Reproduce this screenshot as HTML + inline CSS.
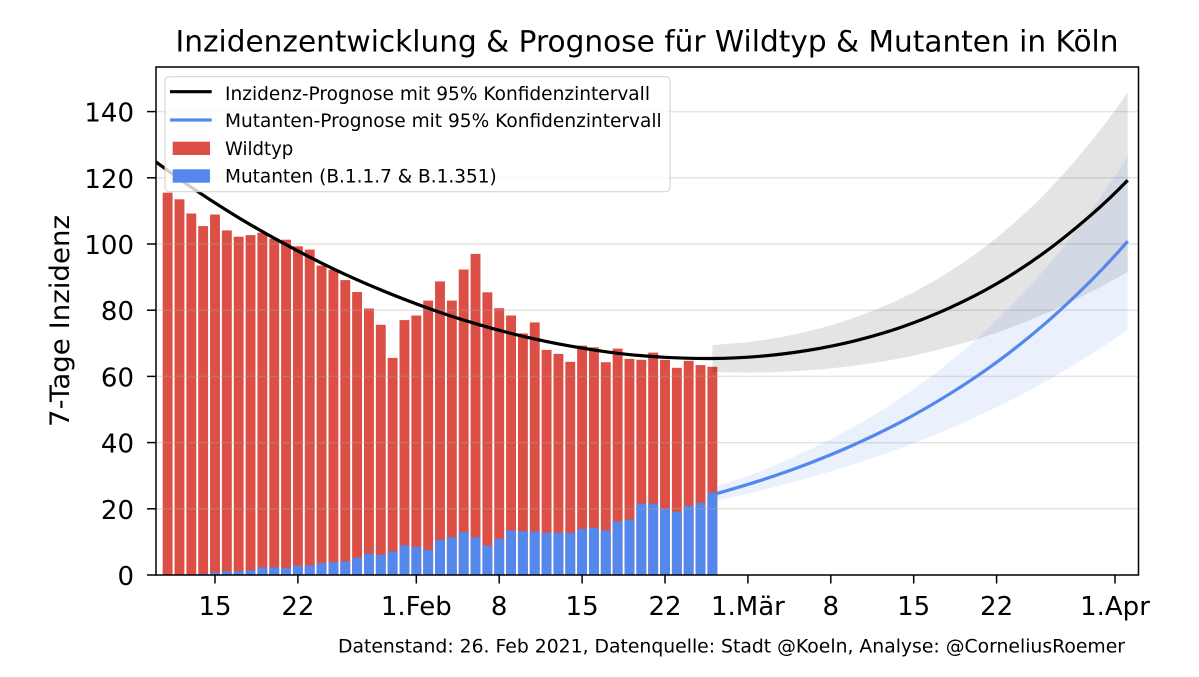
<!DOCTYPE html>
<html>
<head>
<meta charset="utf-8">
<style>
  html, body { margin: 0; padding: 0; background: #ffffff; }
  svg { display: block; }
  text { font-family: "DejaVu Sans", "Liberation Sans", sans-serif; fill: #000; }
</style>
</head>
<body>
<svg width="1199" height="677" viewBox="0 0 1199 677" xmlns="http://www.w3.org/2000/svg">
  <defs>
    <clipPath id="plot">
      <rect x="156" y="67" width="982.5" height="508"/>
    </clipPath>
    <clipPath id="blueclip">
      <rect x="716.5" y="67" width="422" height="508"/>
    </clipPath>
  </defs>
  <rect x="0" y="0" width="1199" height="677" fill="#ffffff"/>

  <!-- Title -->
  <text x="647" y="51.7" font-size="29.5" text-anchor="middle" textLength="943" lengthAdjust="spacingAndGlyphs">Inzidenzentwicklung &amp; Prognose für Wildtyp &amp; Mutanten in Köln</text>

  <g clip-path="url(#plot)">
    <!-- red bars (total) -->
    <g fill="#db4f46">
      <rect x="162.68" y="192.7" width="9.9" height="382.3"/>
      <rect x="174.52" y="199.3" width="9.9" height="375.7"/>
      <rect x="186.37" y="213.5" width="9.9" height="361.5"/>
      <rect x="198.21" y="226.1" width="9.9" height="348.9"/>
      <rect x="210.05" y="214.5" width="9.9" height="360.5"/>
      <rect x="221.89" y="230.4" width="9.9" height="344.6"/>
      <rect x="233.73" y="236.7" width="9.9" height="338.3"/>
      <rect x="245.58" y="235.1" width="9.9" height="339.9"/>
      <rect x="257.42" y="232.7" width="9.9" height="342.3"/>
      <rect x="269.26" y="238.7" width="9.9" height="336.3"/>
      <rect x="281.10" y="239.7" width="9.9" height="335.3"/>
      <rect x="292.94" y="246.3" width="9.9" height="328.7"/>
      <rect x="304.79" y="249.6" width="9.9" height="325.4"/>
      <rect x="316.63" y="265.5" width="9.9" height="309.5"/>
      <rect x="328.47" y="269.8" width="9.9" height="305.2"/>
      <rect x="340.31" y="280.1" width="9.9" height="294.9"/>
      <rect x="352.15" y="292.0" width="9.9" height="283.0"/>
      <rect x="364.00" y="308.5" width="9.9" height="266.5"/>
      <rect x="375.84" y="324.8" width="9.9" height="250.2"/>
      <rect x="387.68" y="357.9" width="9.9" height="217.1"/>
      <rect x="399.52" y="320.1" width="9.9" height="254.9"/>
      <rect x="411.36" y="315.5" width="9.9" height="259.5"/>
      <rect x="423.21" y="300.6" width="9.9" height="274.4"/>
      <rect x="435.05" y="281.4" width="9.9" height="293.6"/>
      <rect x="446.89" y="300.6" width="9.9" height="274.4"/>
      <rect x="458.73" y="269.5" width="9.9" height="305.5"/>
      <rect x="470.57" y="253.9" width="9.9" height="321.1"/>
      <rect x="482.42" y="292.3" width="9.9" height="282.7"/>
      <rect x="494.26" y="308.2" width="9.9" height="266.8"/>
      <rect x="506.10" y="315.5" width="9.9" height="259.5"/>
      <rect x="517.94" y="333.4" width="9.9" height="241.6"/>
      <rect x="529.78" y="322.4" width="9.9" height="252.6"/>
      <rect x="541.63" y="349.9" width="9.9" height="225.1"/>
      <rect x="553.47" y="353.9" width="9.9" height="221.1"/>
      <rect x="565.31" y="361.8" width="9.9" height="213.2"/>
      <rect x="577.15" y="345.6" width="9.9" height="229.4"/>
      <rect x="588.99" y="347.3" width="9.9" height="227.7"/>
      <rect x="600.84" y="362.2" width="9.9" height="212.8"/>
      <rect x="612.68" y="348.6" width="9.9" height="226.4"/>
      <rect x="624.52" y="358.9" width="9.9" height="216.1"/>
      <rect x="636.36" y="359.8" width="9.9" height="215.2"/>
      <rect x="648.20" y="352.6" width="9.9" height="222.4"/>
      <rect x="660.05" y="359.8" width="9.9" height="215.2"/>
      <rect x="671.89" y="367.8" width="9.9" height="207.2"/>
      <rect x="683.73" y="360.8" width="9.9" height="214.2"/>
      <rect x="695.57" y="365.1" width="9.9" height="209.9"/>
      <rect x="707.41" y="366.8" width="9.9" height="208.2"/>
    </g>
    <!-- blue bars (mutants) -->
    <g fill="#5488ec">
      <rect x="186.37" y="574.3" width="9.9" height="0.7"/>
      <rect x="198.21" y="573.7" width="9.9" height="1.3"/>
      <rect x="210.05" y="572.4" width="9.9" height="2.6"/>
      <rect x="221.89" y="571.4" width="9.9" height="3.6"/>
      <rect x="233.73" y="571.4" width="9.9" height="3.6"/>
      <rect x="245.58" y="570.4" width="9.9" height="4.6"/>
      <rect x="257.42" y="567.4" width="9.9" height="7.6"/>
      <rect x="269.26" y="567.4" width="9.9" height="7.6"/>
      <rect x="281.10" y="568.0" width="9.9" height="7.0"/>
      <rect x="292.94" y="565.7" width="9.9" height="9.3"/>
      <rect x="304.79" y="565.4" width="9.9" height="9.6"/>
      <rect x="316.63" y="563.1" width="9.9" height="11.9"/>
      <rect x="328.47" y="562.1" width="9.9" height="12.9"/>
      <rect x="340.31" y="561.4" width="9.9" height="13.6"/>
      <rect x="352.15" y="557.8" width="9.9" height="17.2"/>
      <rect x="364.00" y="553.8" width="9.9" height="21.2"/>
      <rect x="375.84" y="554.8" width="9.9" height="20.2"/>
      <rect x="387.68" y="551.5" width="9.9" height="23.5"/>
      <rect x="399.52" y="545.2" width="9.9" height="29.8"/>
      <rect x="411.36" y="546.9" width="9.9" height="28.1"/>
      <rect x="423.21" y="549.8" width="9.9" height="25.2"/>
      <rect x="435.05" y="539.9" width="9.9" height="35.1"/>
      <rect x="446.89" y="537.3" width="9.9" height="37.7"/>
      <rect x="458.73" y="532.0" width="9.9" height="43.0"/>
      <rect x="470.57" y="537.3" width="9.9" height="37.7"/>
      <rect x="482.42" y="545.5" width="9.9" height="29.5"/>
      <rect x="494.26" y="538.6" width="9.9" height="36.4"/>
      <rect x="506.10" y="530.6" width="9.9" height="44.4"/>
      <rect x="517.94" y="531.3" width="9.9" height="43.7"/>
      <rect x="529.78" y="531.6" width="9.9" height="43.4"/>
      <rect x="541.63" y="532.6" width="9.9" height="42.4"/>
      <rect x="553.47" y="532.6" width="9.9" height="42.4"/>
      <rect x="565.31" y="532.6" width="9.9" height="42.4"/>
      <rect x="577.15" y="529.0" width="9.9" height="46.0"/>
      <rect x="588.99" y="527.7" width="9.9" height="47.3"/>
      <rect x="600.84" y="530.6" width="9.9" height="44.4"/>
      <rect x="612.68" y="521.4" width="9.9" height="53.6"/>
      <rect x="624.52" y="519.7" width="9.9" height="55.3"/>
      <rect x="636.36" y="503.8" width="9.9" height="71.2"/>
      <rect x="648.20" y="503.8" width="9.9" height="71.2"/>
      <rect x="660.05" y="508.8" width="9.9" height="66.2"/>
      <rect x="671.89" y="511.8" width="9.9" height="63.2"/>
      <rect x="683.73" y="505.8" width="9.9" height="69.2"/>
      <rect x="695.57" y="503.2" width="9.9" height="71.8"/>
      <rect x="707.41" y="492.9" width="9.9" height="82.1"/>
    </g>

    <!-- horizontal grid (drawn over bars, semi-transparent) -->
    <g stroke="rgba(170,170,170,0.32)" stroke-width="1.5">
      <line x1="156" y1="508.8" x2="1138.5" y2="508.8"/>
      <line x1="156" y1="442.6" x2="1138.5" y2="442.6"/>
      <line x1="156" y1="376.4" x2="1138.5" y2="376.4"/>
      <line x1="156" y1="310.2" x2="1138.5" y2="310.2"/>
      <line x1="156" y1="244.0" x2="1138.5" y2="244.0"/>
      <line x1="156" y1="177.8" x2="1138.5" y2="177.8"/>
      <line x1="156" y1="111.6" x2="1138.5" y2="111.6"/>
    </g>

    <!-- confidence bands -->
    <path fill="rgba(0,0,0,0.105)" d="M712.4,345.1
      C728.2,343.6 744.0,342.85 759.8,340.6
      C775.6,338.35 791.3,335.43 807.1,331.6
      C822.9,327.77 838.7,323.18 854.5,317.6
      C870.3,312.02 886.1,305.73 901.9,298.1
      C917.7,290.47 933.4,281.85 949.2,271.8
      C965.0,261.75 980.8,250.65 996.6,237.8
      C1012.4,224.95 1028.2,210.78 1044.0,194.7
      C1059.8,178.62 1075.5,160.59 1091.3,141.3
      C1103.4,126.46 1115.6,110.1 1127.7,92.3
      L1127.7,271.6
      C1115.6,278.88 1103.4,285.63 1091.3,291.8
      C1075.5,299.83 1059.8,307.38 1044.0,314.2
      C1028.2,321.02 1012.4,327.23 996.6,332.7
      C980.8,338.17 965.0,342.78 949.2,347.0
      C933.4,351.22 917.7,354.9 901.9,358.0
      C886.1,361.1 870.3,363.53 854.5,365.6
      C838.7,367.67 822.9,369.25 807.1,370.4
      C791.3,371.55 775.6,372.23 759.8,372.5
      C744.0,372.77 728.2,372.17 712.4,372.0 Z"/>
    <path fill="rgba(84,136,236,0.12)" d="M712.4,488.3
      C728.2,482.6 744.0,477.45 759.8,471.2
      C775.6,464.95 791.3,458.27 807.1,450.8
      C822.9,443.33 838.7,435.35 854.5,426.4
      C870.3,417.45 886.1,407.82 901.9,397.1
      C917.7,386.38 933.4,374.92 949.2,362.1
      C965.0,349.28 980.8,335.53 996.6,320.2
      C1012.4,304.87 1028.2,288.45 1044.0,270.1
      C1059.8,251.75 1075.5,231.54 1091.3,210.1
      C1103.4,193.61 1115.6,175.7 1127.7,156.3
      L1127.7,329.5
      C1115.6,338.23 1103.4,346.42 1091.3,354.1
      C1075.5,364.09 1059.8,373.65 1044.0,382.5
      C1028.2,391.35 1012.4,399.48 996.6,407.2
      C980.8,414.92 965.0,422.07 949.2,428.8
      C933.4,435.53 917.7,441.73 901.9,447.6
      C886.1,453.47 870.3,458.9 854.5,464.0
      C838.7,469.1 822.9,473.75 807.1,478.2
      C791.3,482.65 775.6,486.82 759.8,490.7
      C744.0,494.58 728.2,497.9 712.4,501.5 Z"/>

    <!-- total forecast line -->
    <path fill="none" stroke="#000000" stroke-width="3.2" stroke-linejoin="round" d="M144.0,153.3
      C159.8,164.63 175.6,176.57 191.4,187.3
      C207.2,198.03 222.9,208.13 238.7,217.7
      C254.5,227.27 270.3,236.17 286.1,244.7
      C301.9,253.23 317.7,261.37 333.5,268.9
      C349.3,276.43 365.0,283.35 380.8,289.9
      C396.6,296.45 412.4,302.57 428.2,308.2
      C444.0,313.83 459.8,319.02 475.6,323.7
      C491.4,328.38 507.1,332.57 522.9,336.3
      C538.7,340.03 554.5,343.27 570.3,346.1
      C586.1,348.93 601.9,351.43 617.7,353.3
      C633.5,355.17 649.2,356.43 665.0,357.3
      C680.8,358.17 696.6,358.67 712.4,358.5
      C728.2,358.33 744.0,357.63 759.8,356.3
      C775.6,354.97 791.3,353.07 807.1,350.5
      C822.9,347.93 838.7,344.82 854.5,340.9
      C870.3,336.98 886.1,332.47 901.9,327.0
      C917.7,321.53 933.4,315.3 949.2,308.1
      C965.0,300.9 980.8,293.02 996.6,283.8
      C1012.4,274.58 1028.2,264.3 1044.0,252.8
      C1059.8,241.3 1075.5,228.5 1091.3,214.8
      C1103.4,204.3 1115.6,192.7 1127.7,180.2"/>
  </g>

  <!-- mutant forecast line -->
  <g clip-path="url(#blueclip)">
    <path fill="none" stroke="#5488ec" stroke-width="3.2" stroke-linejoin="round" d="M712.4,494.9
      C728.2,490.17 744.0,485.83 759.8,480.7
      C775.6,475.57 791.3,470.13 807.1,464.1
      C822.9,458.07 838.7,451.62 854.5,444.5
      C870.3,437.38 886.1,429.78 901.9,421.4
      C917.7,413.02 933.4,404.05 949.2,394.2
      C965.0,384.35 980.8,373.9 996.6,362.3
      C1012.4,350.7 1028.2,338.25 1044.0,324.6
      C1059.8,310.95 1075.5,296.11 1091.3,280.4
      C1103.4,268.31 1115.6,255.27 1127.7,241.2"/>
  </g>

  <!-- spines -->
  <rect x="156" y="67" width="982.5" height="508" fill="none" stroke="#000" stroke-width="1.5"/>

  <!-- y ticks -->
  <g stroke="#000" stroke-width="1.5">
    <line x1="147" y1="575" x2="156" y2="575"/>
    <line x1="147" y1="508.8" x2="156" y2="508.8"/>
    <line x1="147" y1="442.6" x2="156" y2="442.6"/>
    <line x1="147" y1="376.4" x2="156" y2="376.4"/>
    <line x1="147" y1="310.2" x2="156" y2="310.2"/>
    <line x1="147" y1="244.0" x2="156" y2="244.0"/>
    <line x1="147" y1="177.8" x2="156" y2="177.8"/>
    <line x1="147" y1="111.6" x2="156" y2="111.6"/>
  </g>
  <g font-size="26" text-anchor="end">
    <text x="134" y="585">0</text>
    <text x="134" y="518.8">20</text>
    <text x="134" y="452.6">40</text>
    <text x="134" y="386.4">60</text>
    <text x="134" y="320.2">80</text>
    <text x="134" y="254.0">100</text>
    <text x="134" y="187.8">120</text>
    <text x="134" y="121.6">140</text>
  </g>

  <!-- x ticks -->
  <g stroke="#000" stroke-width="1.5">
    <line x1="215" y1="575" x2="215" y2="583.5"/>
    <line x1="297.9" y1="575" x2="297.9" y2="583.5"/>
    <line x1="416.3" y1="575" x2="416.3" y2="583.5"/>
    <line x1="499.2" y1="575" x2="499.2" y2="583.5"/>
    <line x1="582.1" y1="575" x2="582.1" y2="583.5"/>
    <line x1="665.0" y1="575" x2="665.0" y2="583.5"/>
    <line x1="747.9" y1="575" x2="747.9" y2="583.5"/>
    <line x1="830.8" y1="575" x2="830.8" y2="583.5"/>
    <line x1="913.7" y1="575" x2="913.7" y2="583.5"/>
    <line x1="996.6" y1="575" x2="996.6" y2="583.5"/>
    <line x1="1115" y1="575" x2="1115" y2="583.5"/>
  </g>
  <g font-size="26" text-anchor="middle">
    <text x="215" y="615">15</text>
    <text x="297.9" y="615">22</text>
    <text x="416.3" y="615">1.Feb</text>
    <text x="499.2" y="615">8</text>
    <text x="582.1" y="615">15</text>
    <text x="665.0" y="615">22</text>
    <text x="747.9" y="615">1.Mär</text>
    <text x="830.8" y="615">8</text>
    <text x="913.7" y="615">15</text>
    <text x="996.6" y="615">22</text>
    <text x="1115" y="615">1.Apr</text>
  </g>

  <!-- y axis label -->
  <text transform="translate(69,321) rotate(-90)" font-size="26.5" text-anchor="middle" textLength="212" lengthAdjust="spacingAndGlyphs">7-Tage Inzidenz</text>

  <!-- legend -->
  <rect x="165" y="76.7" width="505" height="115" rx="4" ry="4" fill="rgba(255,255,255,0.8)" stroke="rgba(204,204,204,0.8)" stroke-width="1.2"/>
  <line x1="170" y1="91.7" x2="211.7" y2="91.7" stroke="#000" stroke-width="3.2"/>
  <line x1="170" y1="120" x2="211.7" y2="120" stroke="#5488ec" stroke-width="3.2"/>
  <rect x="172.7" y="141.7" width="37.3" height="13.3" fill="#db4f46"/>
  <rect x="172.7" y="169.3" width="37.3" height="13.4" fill="#5488ec"/>
  <g font-size="19">
    <text x="225" y="100" textLength="425" lengthAdjust="spacingAndGlyphs">Inzidenz-Prognose mit 95% Konfidenzintervall</text>
    <text x="225" y="127" textLength="436.7" lengthAdjust="spacingAndGlyphs">Mutanten-Prognose mit 95% Konfidenzintervall</text>
    <text x="225" y="155" textLength="68.3" lengthAdjust="spacingAndGlyphs">Wildtyp</text>
    <text x="225" y="182.7" textLength="271.7" lengthAdjust="spacingAndGlyphs">Mutanten (B.1.1.7 &amp; B.1.351)</text>
  </g>

  <!-- footer -->
  <text x="338" y="652.5" font-size="19" textLength="787" lengthAdjust="spacingAndGlyphs">Datenstand: 26. Feb 2021, Datenquelle: Stadt @Koeln, Analyse: @CorneliusRoemer</text>
</svg>
</body>
</html>
